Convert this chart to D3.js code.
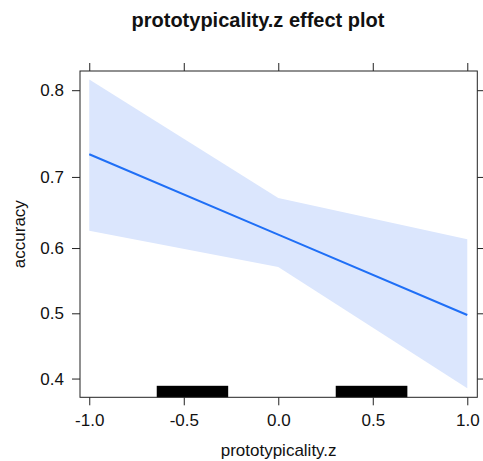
<!DOCTYPE html>
<html>
<head>
<meta charset="utf-8">
<script src="https://cdn.jsdelivr.net/npm/d3@7/dist/d3.min.js"></script>
<style>
  html, body { margin: 0; padding: 0; background: #fff; }
  svg { display: block; font-family: "Liberation Sans", Arial, Helvetica, sans-serif; }
</style>
</head>
<body>
<div id="chart"></div>
<script>
// effect values (probability scale) at the evaluated predictor levels
var xLevels = [-1.0, 0.0, 1.0];
var fitValues = [0.7287, 0.6199, 0.4974];
var lowerValues = [0.6255, 0.5714, 0.3856];
var upperValues = [0.8104, 0.6717, 0.6129];

// rug: observed predictor values merge into two solid blocks
var rugSpans = [[-0.643, -0.265], [0.304, 0.683]];

var xTicks = [-1.0, -0.5, 0.0, 0.5, 1.0];
var xTickLabels = ['-1.0', '-0.5', '0.0', '0.5', '1.0'];
var yTicks = [0.4, 0.5, 0.6, 0.7, 0.8];
var yTickLabels = ['0.4', '0.5', '0.6', '0.7', '0.8'];

var titleText = 'prototypicality.z effect plot';
var xLabel = 'prototypicality.z';
var yLabel = 'accuracy';

var width = 483, height = 461;
// panel box (window.top is reserved, so prefix everything)
var pLeft = 80, pRight = 477.3, pTop = 71, pBottom = 397.3;

function logit(p) { return Math.log(p / (1 - p)); }

var svg = d3.select('#chart')
  .append('svg')
  .attr('width', width)
  .attr('height', height);

var x = d3.scaleLinear()
  .domain([-1.049, 1.053])
  .range([pLeft, pRight]);

// accuracy is drawn on the logit scale
var yLogit = d3.scaleLinear()
  .domain([logit(0.3724), logit(0.8184)])
  .range([pBottom, pTop]);
function y(p) { return yLogit(logit(p)); }

var rows = xLevels.map(function (d, i) {
  return { x: d, fit: fitValues[i], lower: lowerValues[i], upper: upperValues[i] };
});

// confidence band
var band = d3.area()
  .x(function (d) { return x(d.x); })
  .y0(function (d) { return y(d.lower); })
  .y1(function (d) { return y(d.upper); });

svg.append('path')
  .datum(rows)
  .attr('d', band)
  .attr('fill', '#dbe6fd')
  .attr('stroke', 'none');

// fitted line
var line = d3.line()
  .x(function (d) { return x(d.x); })
  .y(function (d) { return y(d.fit); });

svg.append('path')
  .datum(rows)
  .attr('d', line)
  .attr('fill', 'none')
  .attr('stroke', '#1f6ff6')
  .attr('stroke-width', 2);

// rug
svg.selectAll('.rug')
  .data(rugSpans)
  .enter()
  .append('rect')
  .attr('class', 'rug')
  .attr('x', function (d) { return x(d[0]); })
  .attr('width', function (d) { return x(d[1]) - x(d[0]); })
  .attr('y', pBottom - 11.5)
  .attr('height', 11.5)
  .attr('fill', '#000');

// axes
var xAxis = d3.axisBottom(x)
  .tickValues(xTicks)
  .tickFormat(function (d, i) { return xTickLabels[i]; })
  .tickSizeInner(8)
  .tickSizeOuter(0)
  .tickPadding(9);

var yAxis = d3.axisLeft(yLogit)
  .tickValues(yTicks.map(logit))
  .tickFormat(function (d, i) { return yTickLabels[i]; })
  .tickSizeInner(8)
  .tickSizeOuter(0)
  .tickPadding(8);

var gx = svg.append('g')
  .attr('transform', 'translate(0,' + pBottom + ')')
  .call(xAxis);
var gy = svg.append('g')
  .attr('transform', 'translate(' + pLeft + ',0)')
  .call(yAxis);

// ticks without labels on top and right
var gxTop = svg.append('g')
  .attr('transform', 'translate(0,' + pTop + ')')
  .call(d3.axisTop(x).tickValues(xTicks).tickFormat('').tickSizeInner(8).tickSizeOuter(0));
var gyRight = svg.append('g')
  .attr('transform', 'translate(' + pRight + ',0)')
  .call(d3.axisRight(yLogit).tickValues(yTicks.map(logit)).tickFormat('').tickSizeInner(8).tickSizeOuter(0));

[gx, gy, gxTop, gyRight].forEach(function (g) {
  g.select('.domain').remove();
  g.selectAll('line').attr('stroke', '#222');
  g.selectAll('text')
    .attr('fill', '#111')
    .style('font-size', '17px')
    .style('font-family', '"Liberation Sans", Arial, sans-serif');
});

// panel box
svg.append('rect')
  .attr('x', pLeft)
  .attr('y', pTop)
  .attr('width', pRight - pLeft)
  .attr('height', pBottom - pTop)
  .attr('fill', 'none')
  .attr('stroke', '#222')
  .attr('stroke-width', 1);

// titles
svg.append('text')
  .attr('x', 258)
  .attr('y', 27)
  .attr('text-anchor', 'middle')
  .style('font-size', '20px')
  .style('font-weight', 'bold')
  .attr('fill', '#111')
  .text(titleText);

svg.append('text')
  .attr('x', (pLeft + pRight) / 2)
  .attr('y', 456)
  .attr('text-anchor', 'middle')
  .style('font-size', '17px')
  .attr('fill', '#111')
  .text(xLabel);

svg.append('text')
  .attr('transform', 'translate(25,' + ((pTop + pBottom) / 2) + ') rotate(-90)')
  .attr('text-anchor', 'middle')
  .style('font-size', '17px')
  .attr('fill', '#111')
  .text(yLabel);
</script>
</body>
</html>
